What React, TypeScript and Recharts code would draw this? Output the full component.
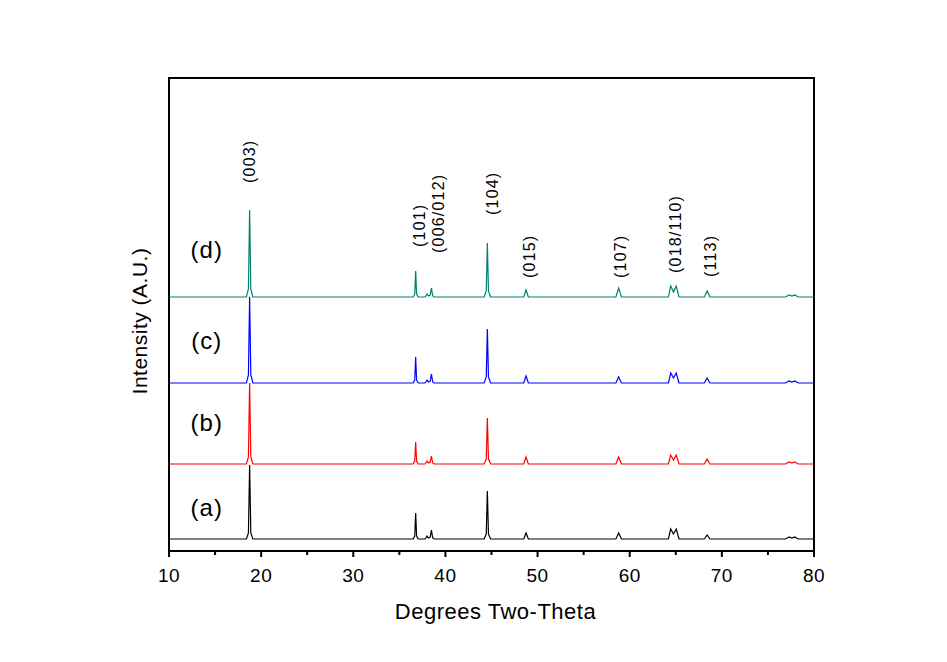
import React from 'react';
import { LineChart, Line, XAxis, YAxis, ReferenceArea, ReferenceDot } from 'recharts';

// [2-theta, intensity] points (intensity above its own baseline)
const sampleA: [number, number][] = [
  [10, 0], [18.4, 0], [18.62, 6], [18.75, 74], [18.88, 6], [19.1, 0],
  [36.5, 0], [36.67, 3], [36.77, 26], [36.87, 3], [37.05, 0],
  [37.8, 0], [38.0, 3], [38.15, 1], [38.35, 2], [38.48, 9], [38.62, 1], [38.8, 0],
  [44.2, 0], [44.43, 5], [44.55, 48], [44.67, 5], [44.9, 0],
  [48.5, 0], [48.75, 6], [49.0, 0],
  [58.5, 0], [58.8, 6], [59.1, 0],
  [64.2, 0], [64.45, 10], [64.75, 5], [65.05, 10], [65.35, 0],
  [68.1, 0], [68.4, 4], [68.7, 0],
  [76.9, 0], [77.3, 2], [77.6, 1], [77.9, 2], [78.3, 0], [80, 0],
];

const sampleB: [number, number][] = [
  [10, 0], [18.4, 0], [18.62, 7], [18.75, 81], [18.88, 7], [19.1, 0],
  [36.5, 0], [36.67, 3], [36.77, 22], [36.87, 3], [37.05, 0],
  [37.8, 0], [38.0, 3], [38.15, 1], [38.35, 2], [38.48, 8], [38.62, 1], [38.8, 0],
  [44.2, 0], [44.43, 5], [44.55, 46], [44.67, 5], [44.9, 0],
  [48.5, 0], [48.75, 7], [49.0, 0],
  [58.5, 0], [58.8, 7], [59.1, 0],
  [64.2, 0], [64.45, 9], [64.75, 4], [65.05, 9], [65.35, 0],
  [68.1, 0], [68.4, 5], [68.7, 0],
  [76.9, 0], [77.3, 2], [77.6, 1], [77.9, 2], [78.3, 0], [80, 0],
];

const sampleC: [number, number][] = [
  [10, 0], [18.4, 0], [18.62, 8], [18.75, 86], [18.88, 8], [19.1, 0],
  [36.5, 0], [36.67, 3], [36.77, 26], [36.87, 3], [37.05, 0],
  [37.8, 0], [38.0, 3], [38.15, 1], [38.35, 2], [38.48, 9], [38.62, 1], [38.8, 0],
  [44.2, 0], [44.43, 6], [44.55, 54], [44.67, 6], [44.9, 0],
  [48.5, 0], [48.75, 7], [49.0, 0],
  [58.5, 0], [58.8, 6], [59.1, 0],
  [64.2, 0], [64.45, 10], [64.75, 5], [65.05, 10], [65.35, 0],
  [68.1, 0], [68.4, 5], [68.7, 0],
  [76.9, 0], [77.3, 2], [77.6, 1], [77.9, 2], [78.3, 0], [80, 0],
];

const sampleD: [number, number][] = [
  [10, 0], [18.4, 0], [18.62, 8], [18.75, 87], [18.88, 8], [19.1, 0],
  [36.5, 0], [36.67, 3], [36.77, 26], [36.87, 3], [37.05, 0],
  [37.8, 0], [38.0, 3], [38.15, 1], [38.35, 2], [38.48, 9], [38.62, 1], [38.8, 0],
  [44.2, 0], [44.43, 6], [44.55, 54], [44.67, 6], [44.9, 0],
  [48.5, 0], [48.75, 7], [49.0, 0],
  [58.5, 0], [58.8, 9], [59.1, 0],
  [64.2, 0], [64.45, 11], [64.75, 5], [65.05, 11], [65.35, 0],
  [68.1, 0], [68.4, 6], [68.7, 0],
  [76.9, 0], [77.3, 2], [77.6, 1], [77.9, 2], [78.3, 0], [80, 0],
];

const samples = [sampleA, sampleB, sampleC, sampleD];
const sampleNames = ['(a)', '(b)', '(c)', '(d)'];
const sampleColors = ['#000000', '#ff0000', '#0000ff', '#00806e'];
const sampleOffsets = [0, 75, 156, 242];
const sampleLabelY = [32, 117, 199, 290];
const sampleLabelX = 14.1;

const hklLabels = ['(003)', '(101)', '(006/012)', '(104)', '(015)', '(107)', '(018/110)', '(113)'];
const hklX = [18.75, 37.24, 39.2, 45.16, 49.07, 58.95, 64.97, 68.82];
const hklY = [356, 292, 286, 324, 261, 261, 266, 262];

const xTicks = [10, 15, 20, 25, 30, 35, 40, 45, 50, 55, 60, 65, 70, 75, 80];

const FONT = '"Liberation Sans", Arial, sans-serif';

const AxisTick = ({ x, y, payload }: any) => {
  const major = payload.value % 10 === 0;
  return (
    <g>
      <line x1={x} x2={x} y1={y} y2={y + (major ? 6 : 4)} stroke="#000" strokeWidth={2} />
      {major && (
        <text x={x} y={y + 31} textAnchor="middle" fontSize={19} letterSpacing={0.5} fontFamily={FONT} fill="#000">
          {payload.value}
        </text>
      )}
    </g>
  );
};

export default function App() {
  const series = samples.map((s, k) => s.map(([t, i]) => ({ t, i: i + sampleOffsets[k] })));

  return (
    <div style={{ position: 'absolute', left: 0, top: 0, background: '#fff' }}>
      <LineChart width={947} height={662} margin={{ top: 78, right: 133, left: 109, bottom: 41 }}>
        <XAxis
          dataKey="t"
          type="number"
          domain={[10, 80]}
          ticks={xTicks}
          interval={0}
          allowDataOverflow
          height={70}
          tickSize={0}
          tickMargin={0}
          tickLine={false}
          axisLine={{ stroke: '#000', strokeWidth: 2 }}
          tick={<AxisTick />}
          label={{
            value: 'Degrees Two-Theta',
            position: 'insideBottom',
            offset: 2,
            dx: 4,
            style: { fontSize: 22, letterSpacing: 0.5, fontFamily: FONT, fill: '#000' },
          }}
        />
        <YAxis
          type="number"
          domain={[-12, 461]}
          allowDataOverflow
          width={60}
          tick={false}
          tickLine={false}
          axisLine={false}
          label={{
            content: () => (
              <text
                transform="translate(139,321) rotate(-90)"
                textAnchor="middle"
                dominantBaseline="central"
                fontSize={21}
                letterSpacing={0.5}
                fontFamily={FONT}
                fill="#000"
              >
                Intensity (A.U.)
              </text>
            ),
          }}
        />
        <ReferenceArea x1={10} x2={80} y1={-12} y2={461} fill="none" stroke="#000" strokeWidth={2} fillOpacity={0} />
        {series.map((d, k) => (
          <Line
            key={sampleNames[k]}
            data={d}
            dataKey="i"
            type="linear"
            stroke={sampleColors[k]}
            strokeWidth={1.2}
            dot={false}
            activeDot={false}
            isAnimationActive={false}
          />
        ))}
        {sampleNames.map((n, k) => (
          <ReferenceDot
            key={n}
            x={sampleLabelX}
            y={sampleLabelY[k]}
            r={0}
            ifOverflow="visible"
            shape={(p: any) => (
              <text x={p.cx} y={p.cy} textAnchor="middle" dominantBaseline="central" fontSize={24} letterSpacing={1} fontFamily={FONT} fill="#000">
                {n}
              </text>
            )}
          />
        ))}
        {hklLabels.map((h, k) => (
          <ReferenceDot
            key={h}
            x={hklX[k]}
            y={hklY[k]}
            r={0}
            ifOverflow="visible"
            shape={(p: any) => (
              <text
                transform={`translate(${p.cx},${p.cy}) rotate(-90)`}
                textAnchor="start"
                dominantBaseline="central"
                fontSize={16}
                letterSpacing={1.2}
                fontFamily={FONT}
                fill="#000"
              >
                {h}
              </text>
            )}
          />
        ))}
      </LineChart>
    </div>
  );
}
